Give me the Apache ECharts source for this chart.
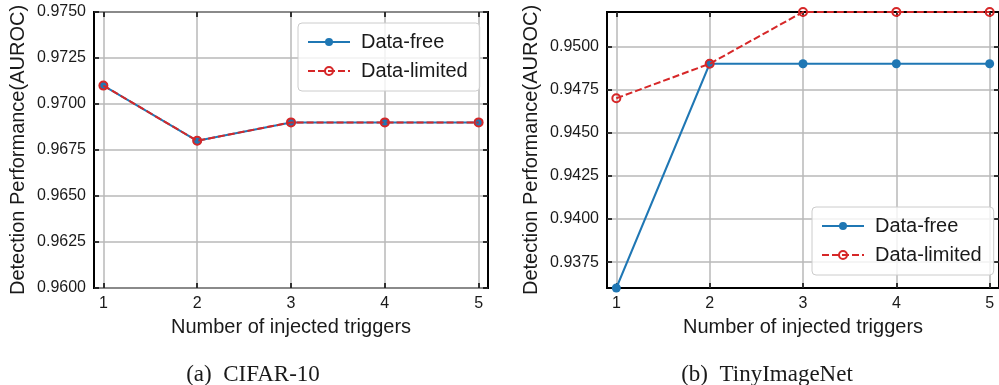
<!DOCTYPE html>
<html>
<head>
<meta charset="utf-8">
<script src="https://cdn.jsdelivr.net/npm/echarts@6.0.0/dist/echarts.min.js"></script>
<style>
    html, body { margin: 0; padding: 0; background: #ffffff; }
    #chart { width: 999px; height: 385px; }
</style>
</head>
<body>
<div id="chart"></div>
<script>
const triggers = [1, 2, 3, 4, 5];

const cifarFree = [0.9710, 0.9680, 0.9690, 0.9690, 0.9690];
const cifarLimited = [0.9710, 0.9680, 0.9690, 0.9690, 0.9690];

const tinyFree = [0.9360, 0.9490, 0.9490, 0.9490, 0.9490];
const tinyLimited = [0.9470, 0.9490, 0.9520, 0.9520, 0.9520];

const cifarTicks = [0.9600, 0.9625, 0.9650, 0.9675, 0.9700, 0.9725, 0.9750];
const tinyTicks = [0.9375, 0.9400, 0.9425, 0.9450, 0.9475, 0.9500];

const captions = ["(a)  CIFAR-10", "(b)  TinyImageNet"];
const seriesNames = ["Data-free", "Data-limited"];

const BLUE = "#1f77b4";
const RED = "#d62728";
const TEXT = "#1a1a1a";
const GRID = "#b8b8b8";
const FONT = "'Liberation Sans', Arial, sans-serif";
const SERIF = "'Liberation Serif', 'Times New Roman', serif";

function pairs(values) {
    return triggers.map((t, i) => [t, values[i]]);
}

function xAxes(gridIndex) {
    return [
        {
            type: "value",
            gridIndex: gridIndex,
            position: "bottom",
            min: 0.9,
            max: 5.1,
            name: "Number of injected triggers",
            nameLocation: "middle",
            nameGap: 29,
            nameTextStyle: { fontFamily: FONT, fontSize: 20, color: TEXT },
            axisLine: { show: false },
            axisTick: {
                inside: true, length: 5, customValues: triggers,
                lineStyle: { color: "#000", width: 1.5 }
            },
            axisLabel: {
                customValues: triggers, margin: 8,
                fontFamily: FONT, fontSize: 16, color: TEXT
            },
            splitLine: { show: true, lineStyle: { color: GRID, width: 1.5 } }
        },
        {
            type: "value",
            gridIndex: gridIndex,
            position: "top",
            min: 0.9,
            max: 5.1,
            axisLine: { show: false },
            axisTick: {
                inside: true, length: 5, customValues: triggers,
                lineStyle: { color: "#000", width: 1.5 }
            },
            axisLabel: { show: false },
            splitLine: { show: false }
        }
    ];
}

function yAxes(gridIndex, min, max, ticks) {
    return [
        {
            type: "value",
            gridIndex: gridIndex,
            position: "left",
            min: min,
            max: max,
            name: "Detection Performance(AUROC)",
            nameLocation: "middle",
            nameGap: 66,
            nameTextStyle: { fontFamily: FONT, fontSize: 20, color: TEXT },
            axisLine: { show: false },
            axisTick: {
                inside: true, length: 5, customValues: ticks,
                lineStyle: { color: "#000", width: 1.5 }
            },
            axisLabel: {
                customValues: ticks, margin: 8,
                fontFamily: FONT, fontSize: 16, color: TEXT,
                formatter: v => v.toFixed(4)
            },
            splitLine: { show: true, lineStyle: { color: GRID, width: 1.5 } }
        },
        {
            type: "value",
            gridIndex: gridIndex,
            position: "right",
            min: min,
            max: max,
            axisLine: { show: false },
            axisTick: {
                inside: true, length: 5, customValues: ticks,
                lineStyle: { color: "#000", width: 1.5 }
            },
            axisLabel: { show: false },
            splitLine: { show: false }
        }
    ];
}

function lineSeries(gridIndex, free, limited) {
    const axisIndex = gridIndex * 2;
    return [
        {
            name: seriesNames[0],
            type: "line",
            xAxisIndex: axisIndex,
            yAxisIndex: axisIndex,
            data: pairs(free),
            symbol: "circle",
            symbolSize: 9,
            lineStyle: { color: BLUE, width: 2 },
            itemStyle: { color: BLUE },
            emphasis: { disabled: true },
            z: 3
        },
        {
            name: seriesNames[1],
            type: "line",
            xAxisIndex: axisIndex,
            yAxisIndex: axisIndex,
            data: pairs(limited),
            symbol: "circle",
            symbolSize: 8,
            lineStyle: { color: RED, width: 2, type: [7, 3] },
            itemStyle: { color: "rgba(255,255,255,0)", borderColor: RED, borderWidth: 2 },
            emphasis: { disabled: true },
            z: 4
        }
    ];
}

function legendAt(left, top) {
    return {
        orient: "vertical",
        left: left,
        top: top,
        data: seriesNames,
        itemWidth: 42,
        itemHeight: 10,
        itemGap: 9,
        padding: [9, 12, 10, 9],
        backgroundColor: "rgba(255,255,255,0.8)",
        borderColor: "#cccccc",
        borderWidth: 1,
        borderRadius: 4,
        selectedMode: false,
        textStyle: {
            fontFamily: FONT, fontSize: 20, lineHeight: 20, color: TEXT,
            padding: [0, 0, 0, 6]
        }
    };
}

const chart = echarts.init(document.getElementById("chart"));

chart.setOption({
    animation: false,
    backgroundColor: "#ffffff",
    grid: [
        { left: 94, top: 12, width: 394, height: 276, show: true,
          borderColor: "#000", borderWidth: 2, backgroundColor: "transparent" },
        { left: 607, top: 12, width: 394, height: 276, show: true,
          borderColor: "#000", borderWidth: 2, backgroundColor: "transparent" }
    ],
    title: [
        {
            text: captions[0], left: 248, top: 358, textAlign: "center",
            textStyle: { fontFamily: SERIF, fontSize: 23, fontWeight: "normal", color: TEXT }
        },
        {
            text: captions[1], left: 762, top: 358, textAlign: "center",
            textStyle: { fontFamily: SERIF, fontSize: 23, fontWeight: "normal", color: TEXT }
        }
    ],
    legend: [legendAt(298, 23), legendAt(812, 207)],
    xAxis: [...xAxes(0), ...xAxes(1)],
    yAxis: [
        ...yAxes(0, 0.96, 0.975, cifarTicks),
        ...yAxes(1, 0.936, 0.952, tinyTicks)
    ],
    series: [
        ...lineSeries(0, cifarFree, cifarLimited),
        ...lineSeries(1, tinyFree, tinyLimited)
    ]
});
</script>
</body>
</html>
